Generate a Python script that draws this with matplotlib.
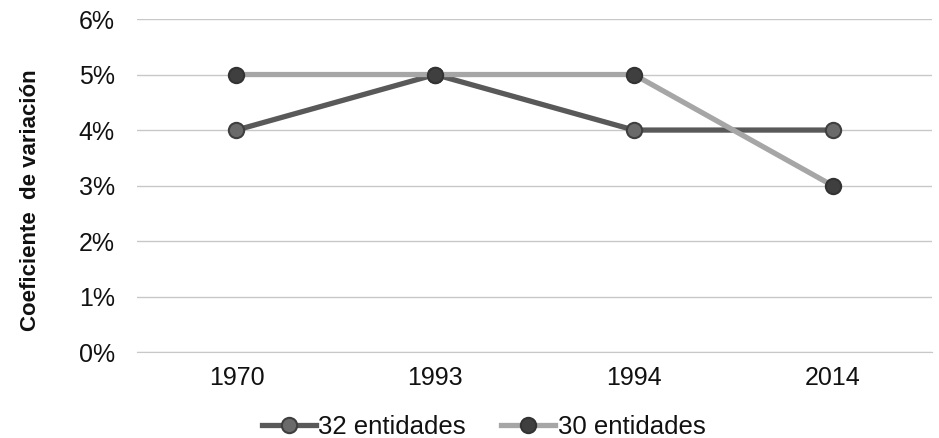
import matplotlib
matplotlib.use('Agg')
import matplotlib.pyplot as plt
from matplotlib.ticker import FuncFormatter

plt.rcParams['font.family'] = ['Liberation Sans', 'DejaVu Sans']

# datos
anios = ['1970', '1993', '1994', '2014']
entidades_32 = [4, 5, 4, 4]
entidades_30 = [5, 5, 5, 3]

fig = plt.figure(figsize=(9.39, 4.38), dpi=100)
ax = fig.add_axes([0.146, 0.196, 0.8465, 0.7606])

x = range(len(anios))
ax.plot(x, entidades_32, color='#595959', lw=3.8, marker='o', ms=11,
        mfc='#6a6a6a', mec='#3f3f3f', mew=1.5, label='32 entidades', zorder=3)
ax.plot(x, entidades_30, color='#a6a6a6', lw=3.8, marker='o', ms=11,
        mfc='#3f3f3f', mec='#333333', mew=1.5, label='30 entidades', zorder=4)

ax.set_xlim(-0.5, len(anios) - 0.5)
ax.set_ylim(0, 6)
ax.set_yticks(range(0, 7))
ax.yaxis.set_major_formatter(FuncFormatter(lambda v, p: '%d%%' % v))
ax.set_xticks(list(x))
ax.set_xticklabels(anios)
ax.grid(axis='y', color='#c8c8c8', lw=1)
ax.set_axisbelow(True)
for s in ['top', 'right', 'left']:
    ax.spines[s].set_visible(False)
ax.spines['bottom'].set_color('#c8c8c8')
ax.tick_params(length=0, labelsize=18, colors='#111111')
ax.tick_params(axis='x', pad=10)
ax.tick_params(axis='y', pad=16)

fig.text(0.032, 0.543, 'Coeficiente  de variación', rotation=90, fontsize=16,
         fontweight='bold', ha='center', va='center', color='#111111')

ax.legend(loc='center', bbox_to_anchor=(0.436, -0.224), ncol=2, frameon=False,
          fontsize=18.5, handlelength=2.1, handletextpad=0.1, columnspacing=1.36,
          borderpad=0, labelcolor='#111111')

fig.savefig('out.png', dpi=100)
